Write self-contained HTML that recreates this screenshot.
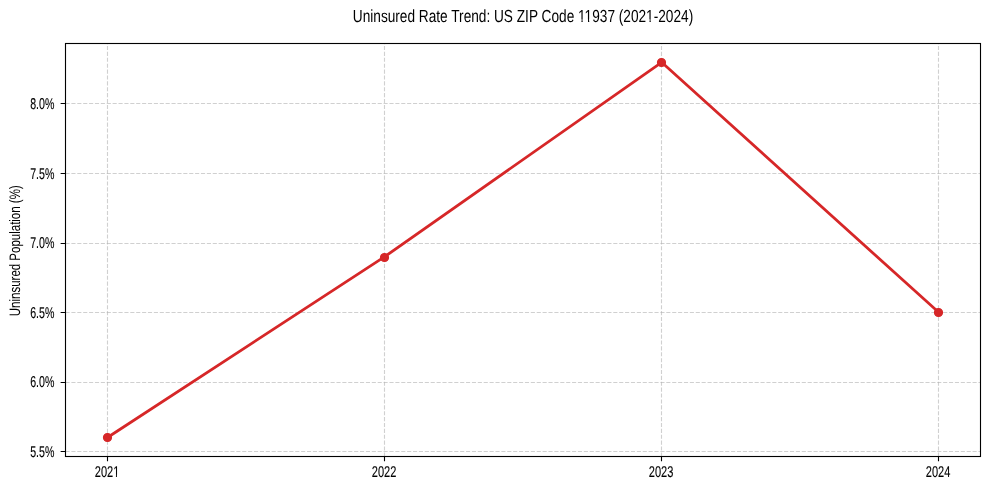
<!DOCTYPE html>
<html>
<head>
<meta charset="utf-8">
<title>Uninsured Rate Trend: US ZIP Code 11937 (2021-2024)</title>
<style>
html,body{margin:0;padding:0;background:#fff;}
svg{display:block;will-change:transform;}
text{font-family:"Liberation Sans",sans-serif;fill:#000;text-rendering:geometricPrecision;}
</style>
</head>
<body>
<svg width="989" height="490" viewBox="0 0 989 490">
<rect x="0" y="0" width="989" height="490" fill="#fff"/>
<g stroke="#b0b0b0" stroke-opacity="0.6" stroke-width="1.11" stroke-dasharray="4.11 1.78" fill="none">
<path d="M107.5 456.5V43.5"/>
<path d="M384.5 456.5V43.5"/>
<path d="M661.5 456.5V43.5"/>
<path d="M938.5 456.5V43.5"/>
<path d="M65.5 451.5H980.5"/>
<path d="M65.5 382.5H980.5"/>
<path d="M65.5 312.5H980.5"/>
<path d="M65.5 243.5H980.5"/>
<path d="M65.5 173.5H980.5"/>
<path d="M65.5 103.5H980.5"/>
</g>
<path d="M107.09 437.73L384.36 256.95L661.64 62.27L938.91 312.58" stroke="#d62728" stroke-width="2.78" fill="none" stroke-linejoin="round" stroke-linecap="butt"/>
<g fill="#d62728" stroke="#d62728" stroke-width="1.2">
<circle cx="107.5" cy="437.5" r="4.0"/>
<circle cx="384.5" cy="257.5" r="4.0"/>
<circle cx="661.5" cy="62.5" r="4.0"/>
<circle cx="938.5" cy="312.5" r="4.0"/>
</g>
<rect x="65.5" y="43.5" width="915.0" height="413.0" fill="none" stroke="#000" stroke-width="1.11"/>
<g stroke="#000" stroke-width="1.11">
<path d="M107.5 456.5v4.86M384.5 456.5v4.86M661.5 456.5v4.86M938.5 456.5v4.86"/>
<path d="M65.5 451.5h-4.86M65.5 382.5h-4.86M65.5 312.5h-4.86M65.5 243.5h-4.86M65.5 173.5h-4.86M65.5 103.5h-4.86"/>
</g>
<g transform="translate(54.40 456.85) scale(0.765 1.125)"><text font-size="13.889" text-anchor="end" stroke="#000" stroke-width="0.12">5.5%</text></g>
<g transform="translate(54.40 386.85) scale(0.765 1.125)"><text font-size="13.889" text-anchor="end" stroke="#000" stroke-width="0.12">6.0%</text></g>
<g transform="translate(54.40 317.85) scale(0.765 1.125)"><text font-size="13.889" text-anchor="end" stroke="#000" stroke-width="0.12">6.5%</text></g>
<g transform="translate(54.40 247.85) scale(0.765 1.125)"><text font-size="13.889" text-anchor="end" stroke="#000" stroke-width="0.12">7.0%</text></g>
<g transform="translate(54.40 178.85) scale(0.765 1.125)"><text font-size="13.889" text-anchor="end" stroke="#000" stroke-width="0.12">7.5%</text></g>
<g transform="translate(54.40 108.85) scale(0.765 1.125)"><text font-size="13.889" text-anchor="end" stroke="#000" stroke-width="0.12">8.0%</text></g>
<g transform="translate(107.03 477.10) scale(0.795 1.12)"><text font-size="13.889" text-anchor="middle" stroke="#000" stroke-width="0.12">2021</text><rect x="7.761" y="-2.238" width="3.435" height="3.038" fill="#fff"/><rect x="12.423" y="-2.238" width="3.326" height="3.038" fill="#fff"/></g>
<g transform="translate(384.03 477.10) scale(0.795 1.12)"><text font-size="13.889" text-anchor="middle" stroke="#000" stroke-width="0.12">2022</text></g>
<g transform="translate(661.03 477.10) scale(0.795 1.12)"><text font-size="13.889" text-anchor="middle" stroke="#000" stroke-width="0.12">2023</text></g>
<g transform="translate(938.03 477.10) scale(0.795 1.12)"><text font-size="13.889" text-anchor="middle" stroke="#000" stroke-width="0.12">2024</text></g>
<g transform="translate(20.10 250.75) rotate(-90) scale(0.828 1.09)"><text font-size="13.889" text-anchor="middle">Uninsured Population (%)</text></g>
<g transform="translate(523.00 21.85) scale(0.82 1.05)"><text font-size="16.667" text-anchor="middle">Uninsured Rate Trend: US ZIP Code 11937 (2021-2024)</text><rect x="67.363" y="-2.445" width="3.922" height="3.245" fill="#fff"/><rect x="72.758" y="-2.445" width="3.791" height="3.245" fill="#fff"/><rect x="75.379" y="-2.445" width="3.922" height="3.245" fill="#fff"/><rect x="80.774" y="-2.445" width="3.791" height="3.245" fill="#fff"/><rect x="150.395" y="-2.445" width="3.922" height="3.245" fill="#fff"/><rect x="155.789" y="-2.445" width="3.791" height="3.245" fill="#fff"/></g>
</svg>
</body>
</html>
